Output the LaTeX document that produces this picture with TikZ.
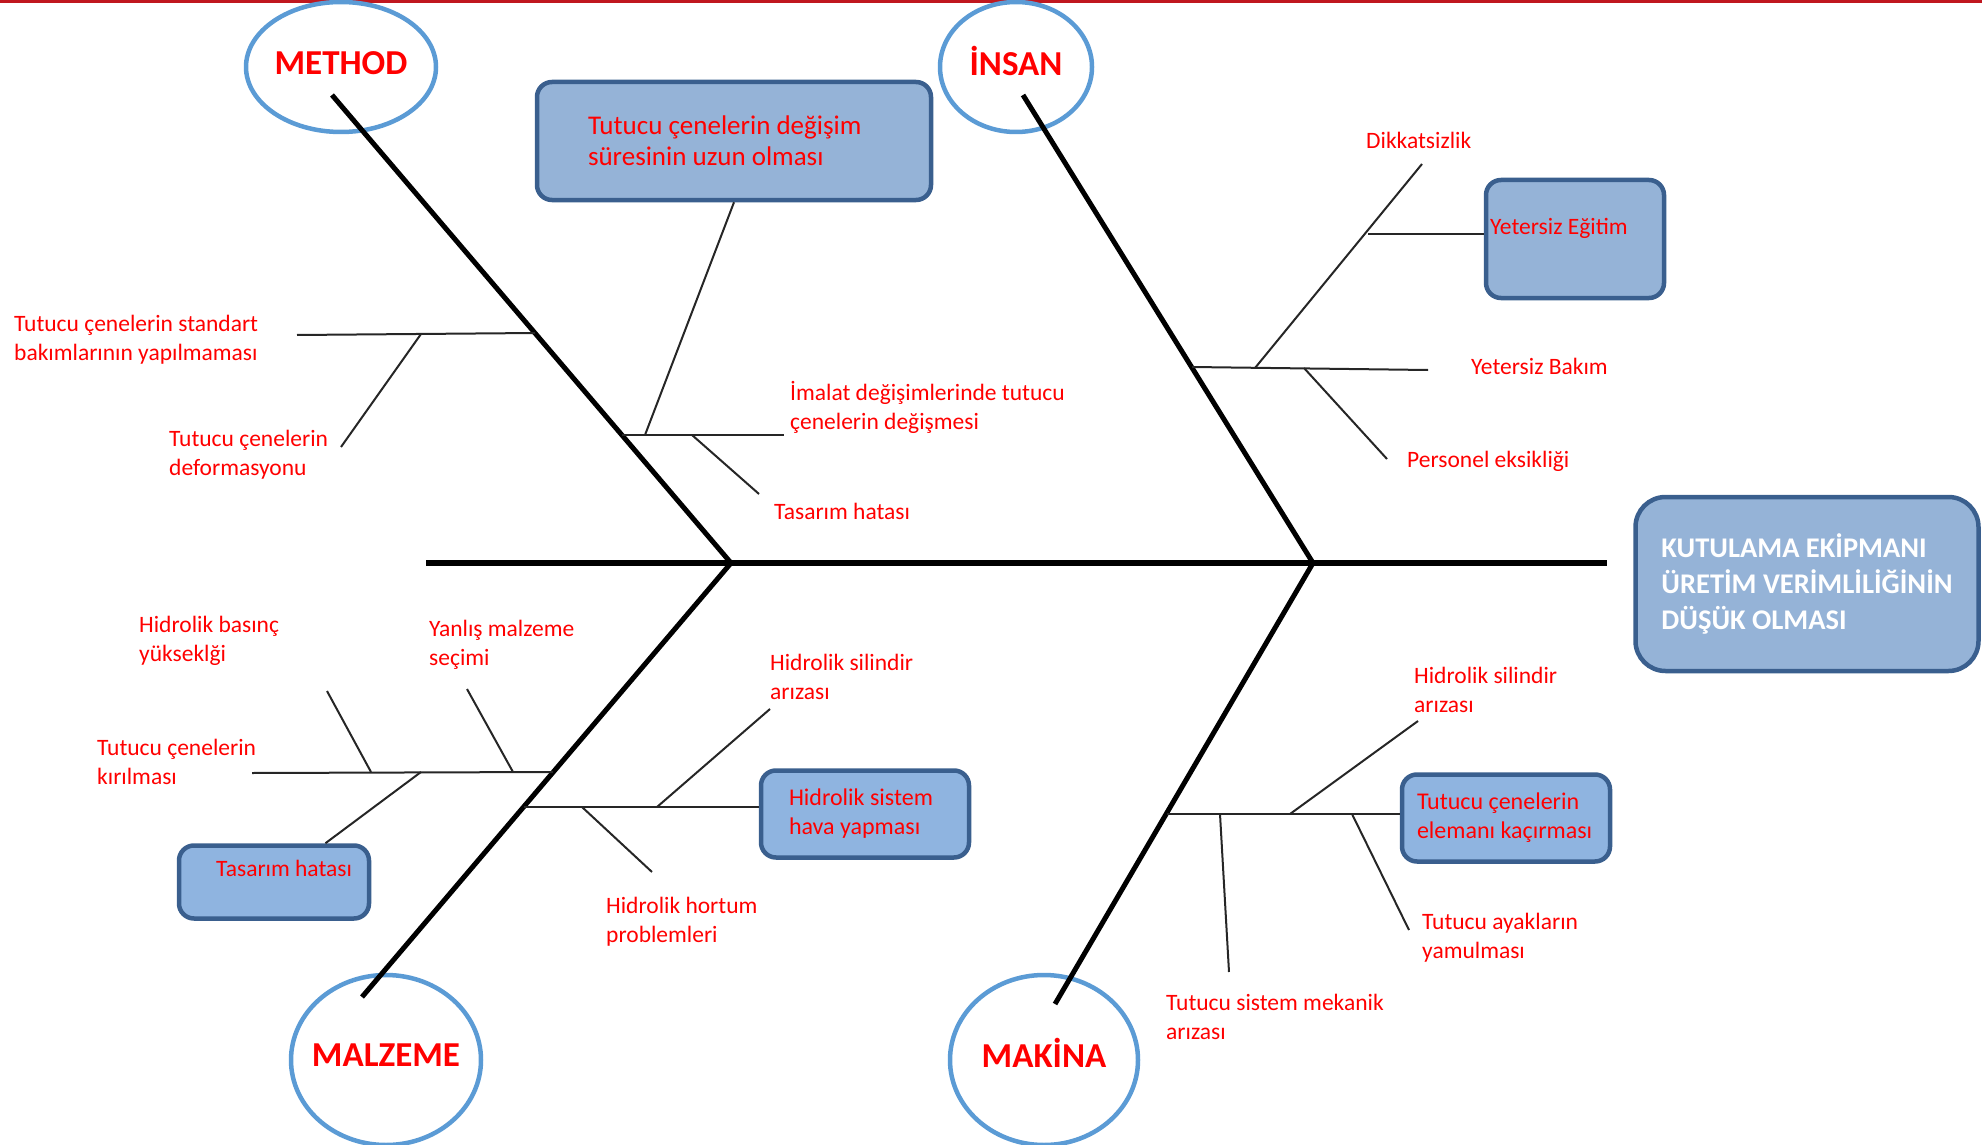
\documentclass[tikz,border=0pt]{standalone}
\usepackage{fontspec}
\setmainfont{Carlito}
\usepackage{tikz}
\usetikzlibrary{shapes.geometric, shapes.misc}
\usepackage{xcolor}
\definecolor{causered}{HTML}{FF0000}
\definecolor{ringblue}{HTML}{5B9BD5}
\definecolor{boxfill}{HTML}{95B3D7}
\definecolor{boxfilltwo}{HTML}{8FB4E0}
\definecolor{boxline}{HTML}{3A5F8E}
\definecolor{topred}{HTML}{C0171F}

\begin{document}
\begin{tikzpicture}[
    x=1pt, y=-1pt,
    every node/.style={inner sep=0pt},
    lbl/.style={text=causered, align=left, anchor=west, font=\fontsize{23.5}{29}\selectfont},
    cattext/.style={text=causered, font=\bfseries\fontsize{35}{40}\selectfont},
    ring/.style={ellipse, draw=ringblue, line width=4.5pt},
    causebox/.style={rectangle, rounded corners=15pt, draw=boxline, fill=boxfill, line width=4.5pt, align=flush left},
    bone/.style={line width=5pt},
    twig/.style={line width=2pt, draw=black!85}
  ]

  \useasboundingbox (0,0) rectangle (1982,1145);
  \draw[topred, line width=3.5pt] (0,1.5) -- (1982,1.5);

  % spine and head
  \node[causebox, rounded corners=30pt, minimum width=343pt, minimum height=174pt,
        text=white, font=\bfseries\fontsize{28.5}{36}\selectfont] (effect) at (1807,584)
    {KUTULAMA EKİPMANI\\ÜRETİM VERİMLİLİĞİNİN\\DÜŞÜK OLMASI};
  \coordinate (tail) at (426,563);
  \coordinate (head) at (1607,563);
  \coordinate (jl) at (731,563);
  \coordinate (jr) at (1313,563);
  \draw[line width=5.5pt] (tail) -- (head);

  % categories
  \node[ring, minimum width=190pt, minimum height=130pt, label={[cattext, yshift=4pt]center:METHOD}] (method) at (341,67) {};
  \node[ring, minimum width=152pt, minimum height=130pt, label={[cattext, yshift=6pt]center:İNSAN}] (insan) at (1016,67) {};
  \node[ring, minimum width=190pt, minimum height=170pt, label={[cattext, yshift=5pt]center:MALZEME}] (malzeme) at (386,1060) {};
  \node[ring, minimum width=188pt, minimum height=170pt, label={[cattext, yshift=7pt]center:MAKİNA}] (makina) at (1044,1060) {};

  \coordinate (mt) at (332,95);
  \coordinate (it) at (1023,95);
  \coordinate (zt) at (362,997);
  \coordinate (kt) at (1055,1004);
  \draw[bone] (mt) -- (jl);
  \draw[bone] (it) -- (jr);
  \draw[bone] (jl) -- (zt);
  \draw[bone] (jr) -- (kt);

  % METHOD
  \node[causebox, text width=292pt, minimum width=394pt, minimum height=118pt,
        font=\fontsize{27}{31}\selectfont, text=causered] (degbox) at (734,141)
    {Tutucu çenelerin değişim\\süresinin uzun olması};
  \coordinate (m1) at (535,333);   \coordinate (m1e) at (297,335);
  \coordinate (m1a) at (421,334);  \coordinate (m1ae) at (341,447);
  \coordinate (m2) at (622,435);   \coordinate (m2e) at (784,435);
  \coordinate (m2a) at (645,435);
  \coordinate (m2b) at (692,435);  \coordinate (m2be) at (759,494);
  \draw[twig] (m1) -- (m1e);
  \draw[twig] (m1a) -- (m1ae);
  \draw[twig] (m2) -- (m2e);
  \draw[twig] (m2a) -- (degbox.south);
  \draw[twig] (m2b) -- (m2be);
  \node[lbl] (std) at (14,340) {Tutucu çenelerin standart\\bakımlarının yapılmaması};
  \node[lbl] (def) at (169,455) {Tutucu çenelerin\\deformasyonu};
  \node[lbl] (imal) at (790,407) {İmalat değişimlerinde tutucu\\çenelerin değişmesi};
  \node[lbl] (tasm) at (774,511) {Tasarım hatası};

  % INSAN
  \node[causebox, minimum width=178pt, minimum height=118pt] (egbox) at (1575,239) {};
  \coordinate (i1) at (1192,367);   \coordinate (i1e) at (1428,370);
  \coordinate (i1a) at (1255,368);  \coordinate (i1ae) at (1422,164);
  \coordinate (i1b) at (1368,234);
  \coordinate (i1c) at (1304,368);  \coordinate (i1ce) at (1387,459);
  \draw[twig] (i1) -- (i1e);
  \draw[twig] (i1a) -- (i1ae);
  \draw[twig] (i1b) -- (i1b -| egbox.west);
  \draw[twig] (i1c) -- (i1ce);
  \node[lbl] (egt) at (1490,228) {Yetersiz Eğitim};
  \node[lbl] (dik) at (1366,140) {Dikkatsizlik};
  \node[lbl] (bak) at (1471,366) {Yetersiz Bakım};
  \node[lbl] (per) at (1407,461) {Personel eksikliği};

  % MALZEME
  \node[causebox, fill=boxfilltwo, minimum width=190pt, minimum height=73pt] (tbbox) at (274,882) {};
  \node[causebox, fill=boxfilltwo, text width=152pt, minimum width=208pt, minimum height=87pt,
        font=\fontsize{24}{29}\selectfont, text=causered] (hsbox) at (865,814)
    {Hidrolik sistem\\hava yapması};
  \coordinate (z1) at (553,772);   \coordinate (z1e) at (252,773);
  \coordinate (z1a) at (371,772);  \coordinate (z1ae) at (327,691);
  \coordinate (z1b) at (513,772);  \coordinate (z1be) at (467,689);
  \coordinate (z1c) at (421,772);
  \coordinate (z2) at (524,807);
  \coordinate (z2a) at (657,807);  \coordinate (z2ae) at (770,709);
  \coordinate (z2b) at (582,807);  \coordinate (z2be) at (652,872);
  \draw[twig] (z1) -- (z1e);
  \draw[twig] (z1a) -- (z1ae);
  \draw[twig] (z1b) -- (z1be);
  \draw[twig] (z1c) -- (tbbox.37);
  \draw[twig] (z2) -- (z2 -| hsbox.west);
  \draw[twig] (z2a) -- (z2ae);
  \draw[twig] (z2b) -- (z2be);
  \node[lbl] (tbh) at (216,868) {Tasarım hatası};
  \node[lbl] (bas) at (139,641) {Hidrolik basınç\\yükseklği};
  \node[lbl] (yan) at (429,645) {Yanlış malzeme\\seçimi};
  \node[lbl] (kir) at (97,762) {Tutucu çenelerin\\kırılması};
  \node[lbl] (sil) at (770,677) {Hidrolik silindir\\arızası};
  \node[lbl] (hor) at (606,922) {Hidrolik hortum\\problemleri};

  % MAKINA
  \node[causebox, fill=boxfilltwo, text width=178pt, minimum width=208pt, minimum height=87pt,
        font=\fontsize{24}{29}\selectfont, text=causered] (tcbox) at (1506,818)
    {Tutucu çenelerin\\elemanı kaçırması};
  \coordinate (k1) at (1167,814);
  \coordinate (k1a) at (1290,814);  \coordinate (k1ae) at (1418,721);
  \coordinate (k1b) at (1220,814);  \coordinate (k1be) at (1229,972);
  \coordinate (k1c) at (1352,814);  \coordinate (k1ce) at (1409,930);
  \draw[twig] (k1) -- (k1 -| tcbox.west);
  \draw[twig] (k1a) -- (k1ae);
  \draw[twig] (k1b) -- (k1be);
  \draw[twig] (k1c) -- (k1ce);
  \node[lbl] (sil2) at (1414,690) {Hidrolik silindir\\arızası};
  \node[lbl] (mek) at (1166,1017) {Tutucu sistem mekanik\\arızası};
  \node[lbl] (aya) at (1422,938) {Tutucu ayakların\\yamulması};

\end{tikzpicture}
\end{document}
